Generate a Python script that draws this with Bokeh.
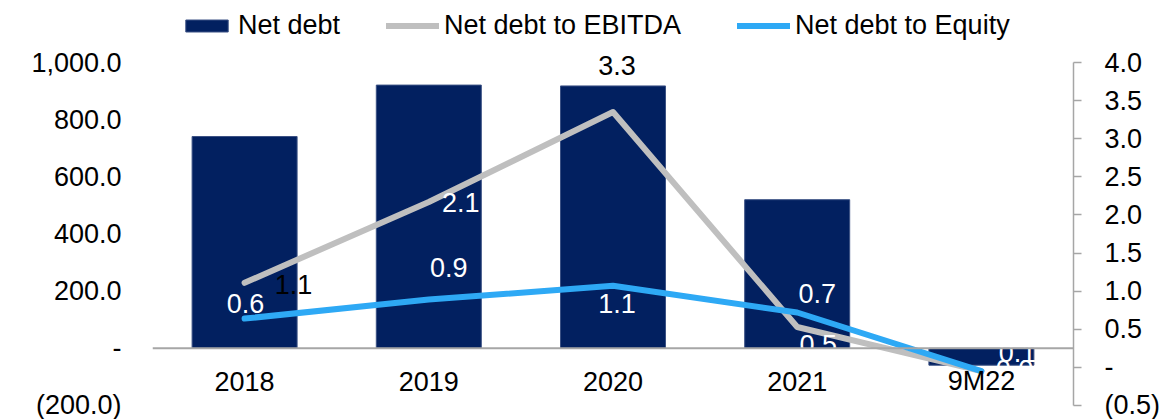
from bokeh.plotting import figure
from bokeh.models import (Range1d, LinearAxis, FixedTicker, Span, Legend,
                          LegendItem, ColumnDataSource, FactorRange)
from bokeh.core.properties import value
from bokeh.embed import file_html
from bokeh.resources import INLINE

# ---------------- data ----------------
categories = ["2018", "2019", "2020", "2021", "9M22"]
net_debt = [741, 921, 918, 520, -59]
debt_to_ebitda = [1.11, 2.17, 3.35, 0.53, -0.05]
debt_to_equity = [0.64, 0.89, 1.07, 0.72, -0.05]
ebitda_labels = ["1.1", "2.1", "3.3", "0.5", "0.1"]
equity_labels = ["0.6", "0.9", "1.1", "0.7", "0.0"]

left_min, left_max = -200, 1000
right_min, right_max = -0.5, 4.0
left_ticks = [-200, 0, 200, 400, 600, 800, 1000]
left_tick_labels = ["(200.0)", "-", "200.0", "400.0", "600.0", "800.0", "1,000.0"]
right_ticks = [-0.5, 0, 0.5, 1.0, 1.5, 2.0, 2.5, 3.0, 3.5, 4.0]
right_tick_labels = ["(0.5)", "-", "0.5", "1.0", "1.5", "2.0", "2.5", "3.0", "3.5", "4.0"]

# ---------------- layout / styles (pixels) ----------------
W, H = 1165, 419
AXIS_TOP_PX = 62          # pixel row of the top tick (1,000 / 4.0)
AXIS_BOTTOM_PX = 405      # pixel row of the bottom tick ((200) / (0.5))
LEFT_PX, RIGHT_PX = 152, 1073
axis_span = AXIS_BOTTOM_PX - AXIS_TOP_PX
# frame runs from the top of the canvas so the legend can sit inside it
left_top = left_max + AXIS_TOP_PX * (left_max - left_min) / axis_span
right_top = right_max + AXIS_TOP_PX * (right_max - right_min) / axis_span

NAVY = "#022060"
GRAY = "#BFBFBF"
BLUE = "#2EA9F5"
AXIS_GRAY = "#A6A6A6"
FONT = "Liberation Sans"
FS = "27px"

ebitda_dx = [49, 32, 4, 21, 36]
ebitda_dy = [2, 1, -47, 18, -19]
ebitda_colors = ["black", "white", "black", "white", "white"]
equity_dx = [1, 20, 4, 20, 33]
equity_dy = [-15, -32, 18, -19, -2]
equity_colors = ["white"] * 5

p = figure(width=W, height=H, output_backend="svg", toolbar_location=None,
           x_range=FactorRange(factors=categories, range_padding=0),
           y_range=Range1d(left_min, left_top), x_axis_location=None,
           min_border_left=LEFT_PX, min_border_right=W - RIGHT_PX,
           min_border_top=0, min_border_bottom=H - AXIS_BOTTOM_PX)
p.extra_y_ranges = {"right": Range1d(right_min, right_top)}
p.outline_line_color = None
p.xgrid.visible = False
p.ygrid.visible = False
p.background_fill_color = "white"
p.border_fill_color = "white"

# left axis
ya = p.yaxis[0]
ya.ticker = FixedTicker(ticks=left_ticks)
ya.major_label_overrides = dict(zip(left_ticks, left_tick_labels))
ya.axis_line_color = None
ya.major_tick_line_color = None
ya.major_tick_in = 0
ya.major_tick_out = 0
ya.minor_tick_line_color = None
ya.major_label_standoff = 31
ya.major_label_text_font = FONT
ya.major_label_text_font_size = FS
ya.major_label_text_color = "black"

# right axis
ra = LinearAxis(y_range_name="right", ticker=FixedTicker(ticks=right_ticks),
                bounds=(right_min, right_max))
ra.major_label_overrides = dict(zip(right_ticks, right_tick_labels))
ra.axis_line_color = AXIS_GRAY
ra.axis_line_width = 1.5
ra.major_tick_line_color = AXIS_GRAY
ra.major_tick_line_width = 1.5
ra.major_tick_in = 0
ra.major_tick_out = 8
ra.minor_tick_line_color = None
ra.major_label_standoff = 23
ra.major_label_text_font = FONT
ra.major_label_text_font_size = FS
ra.major_label_text_color = "black"
p.add_layout(ra, "right")

# bars
bars = p.vbar(x=categories, top=net_debt, bottom=0, width=0.57,
              fill_color=NAVY, line_color="#3B5184", line_width=1)

# zero line
p.add_layout(Span(location=0, dimension="width", line_color=AXIS_GRAY, line_width=2))

# lines
l1 = p.line(x=categories, y=debt_to_ebitda, y_range_name="right", line_color=GRAY,
            line_width=6, line_join="round", line_cap="round")
l2 = p.line(x=categories, y=debt_to_equity, y_range_name="right", line_color=BLUE,
            line_width=6, line_join="round", line_cap="round")

# data labels
src_e = ColumnDataSource(dict(x=categories, y=debt_to_ebitda, t=ebitda_labels,
                              dx=ebitda_dx, dy=ebitda_dy, c=ebitda_colors))
src_q = ColumnDataSource(dict(x=categories, y=debt_to_equity, t=equity_labels,
                              dx=equity_dx, dy=equity_dy, c=equity_colors))
for src in (src_e, src_q):
    p.text(x="x", y="y", text="t", x_offset="dx", y_offset="dy", text_color="c",
           source=src, y_range_name="right", text_font=value(FONT),
           text_font_size=value(FS), text_align="center", text_baseline="middle")

# category labels
p.text(x=categories, y=[0] * len(categories), text=categories, y_offset=33,
       text_color="black", text_font=value(FONT), text_font_size=value(FS),
       text_align="center", text_baseline="middle")

# legends (three separate ones for exact placement, inside the tall frame)
def add_legend(label, renderer, x):
    lg = Legend(items=[LegendItem(label=label, renderers=[renderer])],
                location=(x, 364), orientation="horizontal",
                glyph_width=53, glyph_height=15, label_standoff=5,
                padding=0, margin=0, border_line_color=None,
                background_fill_alpha=0, label_text_font=FONT,
                label_text_font_size=FS, label_text_color="black")
    p.add_layout(lg, "center")

add_legend("Net debt", bars, 28)
add_legend("Net debt to EBITDA", l1, 234)
add_legend("Net debt to Equity", l2, 585)

open("out.html", "w").write(file_html(p, INLINE))
